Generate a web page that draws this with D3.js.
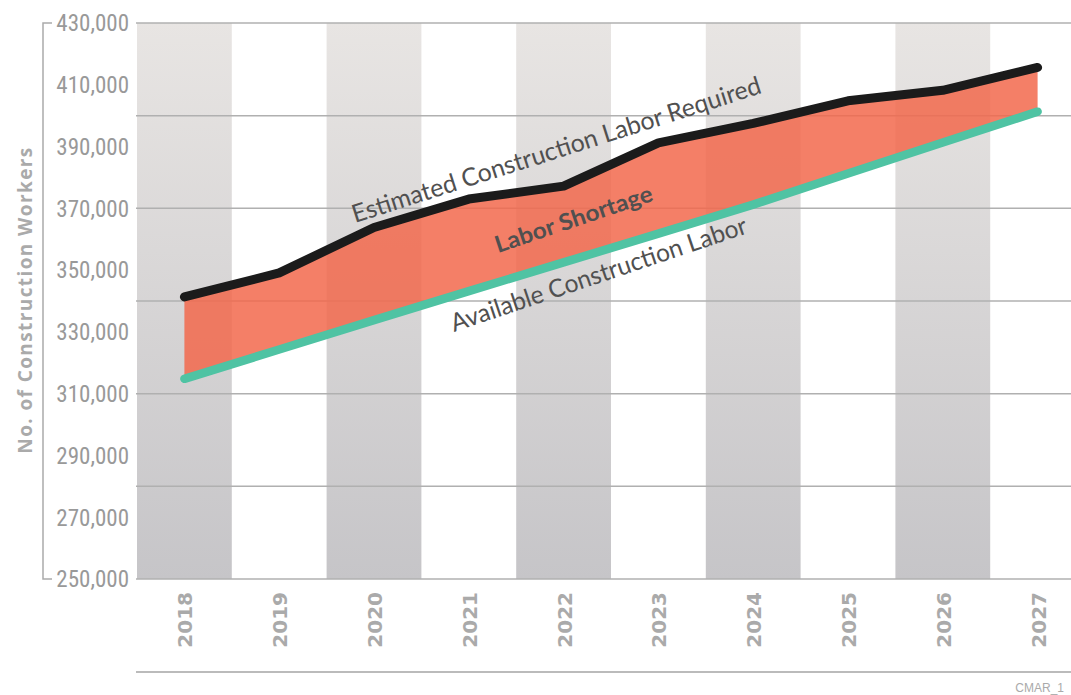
<!DOCTYPE html>
<html>
<head>
<meta charset="utf-8">
<script src="https://cdn.jsdelivr.net/npm/d3@7"></script>
<style>
  body { margin: 0; background: #fff; }
  svg { display: block; }
</style>
</head>
<body>
<div id="chart"></div>
<script>
// data
var years = ["2018", "2019", "2020", "2021", "2022", "2023", "2024", "2025", "2026", "2027"];
var required = [341300, 349100, 363800, 373000, 377200, 391200, 397500, 404800, 408200, 415600];
var available = [314800, 324300, 333800, 343200, 352500, 361800, 371200, 381300, 391300, 401300];
var yLabels = [430000, 410000, 390000, 370000, 350000, 330000, 310000, 290000, 270000, 250000];
var yGrid = [430000, 400000, 370000, 340000, 310000, 280000, 250000];

var width = 1071, height = 695;
var plotLeft = 137, plotTop = 23, plotBottom = 579;

var svg = d3.select("#chart")
  .append("svg")
  .attr("width", width)
  .attr("height", height);

var x = d3.scaleBand()
  .domain(years)
  .range([plotLeft, plotLeft + 94.8 * years.length])
  .padding(0);

var y = d3.scaleLinear()
  .domain([250000, 430000])
  .range([plotBottom, plotTop]);

var cx = function(d) { return x(d) + x.bandwidth() / 2; };

// gradient for the grey columns
var grad = svg.append("defs").append("linearGradient")
  .attr("id", "colGrad")
  .attr("x1", 0).attr("y1", 0).attr("x2", 0).attr("y2", 1);
grad.append("stop").attr("offset", "0%").attr("stop-color", "#e8e5e3");
grad.append("stop").attr("offset", "100%").attr("stop-color", "#c6c5c8");

svg.selectAll(".col")
  .data(years.filter(function(d, i) { return i % 2 == 0; }))
  .enter().append("rect")
  .attr("class", "col")
  .attr("x", function(d) { return x(d); })
  .attr("y", y(430000))
  .attr("width", x.bandwidth())
  .attr("height", y(250000) - y(430000))
  .attr("fill", "url(#colGrad)");

// horizontal grid
svg.selectAll(".grid")
  .data(yGrid)
  .enter().append("line")
  .attr("class", "grid")
  .attr("x1", plotLeft - 1)
  .attr("x2", width)
  .attr("y1", function(d) { return y(d); })
  .attr("y2", function(d) { return y(d); })
  .attr("stroke", "#b0b0b0")
  .attr("stroke-width", 1.5);

// shortage band
var area = d3.area()
  .x(function(d, i) { return cx(years[i]); })
  .y0(function(d, i) { return y(available[i]); })
  .y1(function(d) { return y(d); });

svg.append("path")
  .datum(required)
  .attr("d", area)
  .attr("fill", "#f2684c")
  .attr("fill-opacity", 0.85);

var line = d3.line()
  .x(function(d, i) { return cx(years[i]); })
  .y(function(d) { return y(d); });

svg.append("path")
  .datum(available)
  .attr("d", line)
  .attr("fill", "none")
  .attr("stroke", "#4fc3a3")
  .attr("stroke-width", 8.5)
  .attr("stroke-linecap", "round")
  .attr("stroke-linejoin", "round");

svg.append("path")
  .datum(required)
  .attr("d", line)
  .attr("fill", "none")
  .attr("stroke", "#1b1b1b")
  .attr("stroke-width", 9)
  .attr("stroke-linecap", "round")
  .attr("stroke-linejoin", "round");

// y axis bracket + labels
var axisX = 43;
svg.append("path")
  .attr("d", "M" + (axisX + 9) + "," + y(430000) + "H" + axisX + "V" + y(250000) + "H" + (axisX + 9))
  .attr("fill", "none")
  .attr("stroke", "#aaa")
  .attr("stroke-width", 1.5);

svg.selectAll(".ylab")
  .data(yLabels)
  .enter().append("text")
  .attr("class", "ylab")
  .attr("x", 129)
  .attr("y", function(d) { return y(d); })
  .attr("dy", "0.36em")
  .attr("text-anchor", "end")
  .style("font-family", "'Liberation Sans Narrow', 'Roboto Condensed', Lato, sans-serif")
  .style("font-size", "23px")
  .style("fill", "#999")
  .text(d3.format(","));

svg.append("text")
  .attr("transform", "translate(32,300) rotate(-90)")
  .attr("text-anchor", "middle")
  .style("font-family", "'Open Sans', sans-serif")
  .style("font-weight", "bold")
  .style("font-size", "19px")
  .style("letter-spacing", "1.4px")
  .style("fill", "#aaa")
  .text("No. of Construction Workers");

// x labels
svg.selectAll(".xlab")
  .data(years)
  .enter().append("text")
  .attr("class", "xlab")
  .attr("transform", function(d) { return "translate(" + (cx(d) + 8) + ",592) rotate(-90)"; })
  .attr("text-anchor", "end")
  .style("font-family", "'DejaVu Sans', sans-serif")
  .style("font-weight", "bold")
  .style("font-size", "20px")
  .style("fill", "#aaa")
  .text(function(d) { return d; });

svg.append("line")
  .attr("x1", plotLeft - 1).attr("x2", width)
  .attr("y1", 672).attr("y2", 672)
  .attr("stroke", "#bbb")
  .attr("stroke-width", 2);

svg.append("text")
  .attr("x", 1064)
  .attr("y", 692)
  .attr("text-anchor", "end")
  .style("font-family", "'Liberation Sans Narrow', sans-serif")
  .style("font-size", "12px")
  .style("fill", "#aaa")
  .text("CMAR_1");

// series labels along the lines
function slantText(txt, px, py, ang, size, weight, len) {
  svg.append("text")
    .attr("transform", "translate(" + px + "," + py + ") rotate(" + ang + ")")
    .attr("textLength", len)
    .attr("lengthAdjust", "spacingAndGlyphs")
    .style("font-family", "Lato, sans-serif")
    .style("font-size", size + "px")
    .style("font-weight", weight)
    .style("fill", "#505050")
    .text(txt);
}
slantText("Estimated Construction Labor Required", 355, 223, -17.7, 25, "normal", 428);
slantText("Labor Shortage", 498, 253, -18.6, 23, "bold", 165);
slantText("Available Construction Labor", 454, 332, -18.6, 25, "normal", 311);
</script>
</body>
</html>
